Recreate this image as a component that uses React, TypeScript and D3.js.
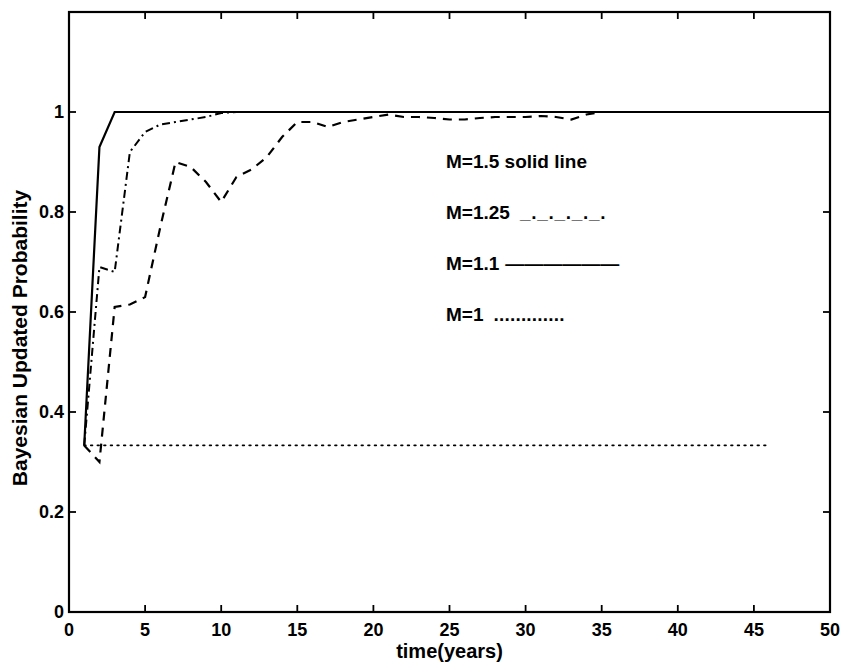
import React from "react";
import * as d3 from "d3";

const years = d3.range(1, 51);
const m150 = [0.333, 0.93, 1.0, 1, 1, 1, 1, 1, 1, 1, 1, 1, 1, 1, 1, 1, 1, 1, 1, 1, 1, 1, 1, 1, 1, 1, 1, 1, 1, 1, 1, 1, 1, 1, 1, 1, 1, 1, 1, 1, 1, 1, 1, 1, 1, 1, 1, 1, 1, 1];
const m125 = [0.333, 0.69, 0.68, 0.92, 0.96, 0.975, 0.98, 0.985, 0.99, 0.998, 1, 1, 1, 1, 1, 1, 1, 1, 1, 1, 1, 1, 1, 1, 1, 1, 1, 1, 1, 1, 1, 1, 1, 1, 1, 1, 1, 1, 1, 1, 1, 1, 1, 1, 1, 1, 1, 1, 1, 1];
const m110 = [0.333, 0.30, 0.61, 0.615, 0.63, 0.77, 0.90, 0.89, 0.86, 0.82, 0.87, 0.885, 0.91, 0.95, 0.98, 0.98, 0.97, 0.98, 0.985, 0.99, 0.995, 0.99, 0.99, 0.988, 0.985, 0.985, 0.988, 0.99, 0.99, 0.99, 0.992, 0.99, 0.985, 0.995, 1, 1, 1, 1, 1, 1, 1, 1, 1, 1, 1, 1, 1, 1, 1, 1];
const m100Years = d3.range(1, 47);
const m100 = m100Years.map(() => 1 / 3);

const xTicks = [0, 5, 10, 15, 20, 25, 30, 35, 40, 45, 50];
const yTicks = [0, 0.2, 0.4, 0.6, 0.8, 1];
const yTickLabels = ["0", "0.2", "0.4", "0.6", "0.8", "1"];

const legendLabels = ["M=1.5 solid line", "M=1.25", "M=1.1", "M=1"];
const legendGlyphs = ["", "_._._._._.", "——————", "............."];

const W = 842;
const H = 663;
const x = d3.scaleLinear().domain([0, 50]).range([69, 830]);
const y = d3.scaleLinear().domain([0, 1.2]).range([612, 12]);

const font = "'Liberation Sans', Arial, Helvetica, sans-serif";

export default function App() {
  const line = d3
    .line<[number, number]>()
    .x((d) => x(d[0]))
    .y((d) => y(d[1]));
  const series = [
    { t: years, v: m150, dash: "none", w: 2.2 },
    { t: years, v: m125, dash: "8,4,2,4", w: 2 },
    { t: years, v: m110, dash: "9,7", w: 2.2 },
    { t: m100Years, v: m100, dash: "1.6,5", w: 1.8 },
  ];
  const [x0, x1] = x.range();
  const [y0, y1] = y.range();
  const tickLen = 7;
  const glyphDx = [0, 10, 6, 10];
  const glyphLs = [0, 0.7, 0, 0.2];
  return (
    <svg
      width={W}
      height={H}
      style={{ position: "absolute", left: 0, top: 0, background: "#fff" }}
      fontFamily={font}
    >
      <rect x={0} y={0} width={W} height={H} fill="#fff" />
      {series.map((s, i) => (
        <path
          key={i}
          d={line(s.t.map((t, j) => [t, s.v[j]] as [number, number])) || ""}
          fill="none"
          stroke="#000"
          strokeWidth={s.w}
          strokeDasharray={s.dash}
          strokeLinecap={i === 3 ? "round" : "butt"}
        />
      ))}
      <rect x={x0} y={y1} width={x1 - x0} height={y0 - y1} fill="none" stroke="#000" strokeWidth={2.2} />
      {xTicks.map((t) => (
        <g key={"xt" + t}>
          <line x1={x(t)} x2={x(t)} y1={y0} y2={y0 - tickLen} stroke="#000" strokeWidth={1.8} />
          <line x1={x(t)} x2={x(t)} y1={y1} y2={y1 + tickLen} stroke="#000" strokeWidth={1.8} />
          <text x={x(t)} y={y0 + 24} textAnchor="middle" fontSize={18} fontWeight="bold">
            {t}
          </text>
        </g>
      ))}
      {yTicks.map((t, i) => (
        <g key={"yt" + t}>
          <line x1={x0} x2={x0 + tickLen} y1={y(t)} y2={y(t)} stroke="#000" strokeWidth={1.8} />
          <line x1={x1} x2={x1 - tickLen} y1={y(t)} y2={y(t)} stroke="#000" strokeWidth={1.8} />
          <text x={x0 - 5} y={y(t) + 6} textAnchor="end" fontSize={18} fontWeight="bold">
            {yTickLabels[i]}
          </text>
        </g>
      ))}
      <text x={(x0 + x1) / 2} y={658} textAnchor="middle" fontSize={20} fontWeight="bold">
        time(years)
      </text>
      <text
        transform={`translate(27, ${338}) rotate(-90)`}
        textAnchor="middle"
        fontSize={21}
        fontWeight="bold"
      >
        Bayesian Updated Probability
      </text>
      {legendLabels.map((l, i) => (
        <text key={l} x={446} y={168 + i * 51} fontSize={19} fontWeight="bold">
          {l}
          {legendGlyphs[i] && (
            <tspan dx={glyphDx[i]} letterSpacing={glyphLs[i]}>
              {legendGlyphs[i]}
            </tspan>
          )}
        </text>
      ))}
    </svg>
  );
}
